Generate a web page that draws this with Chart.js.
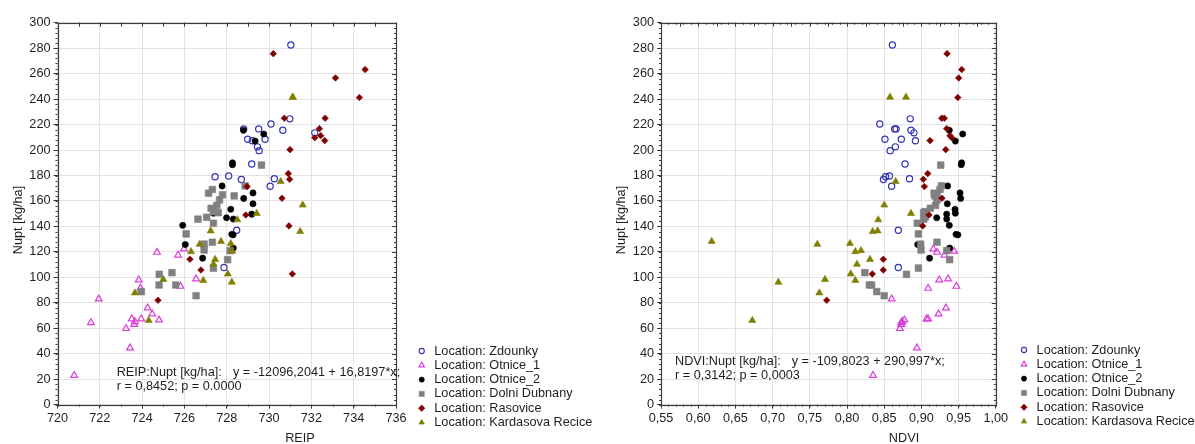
<!DOCTYPE html>
<html>
<head>
<meta charset="utf-8">
<title>Nupt vs REIP / NDVI</title>
<script src="https://cdn.jsdelivr.net/npm/chart.js@4.4.1/dist/chart.umd.min.js"></script>
<style>
  html, body { margin: 0; padding: 0; background: #fff; }
  #wrap { position: relative; width: 1195px; height: 444px; overflow: hidden; }
  #c1 { position: absolute; left: 0; top: 0; }
  #c2 { position: absolute; left: 598px; top: 0; }
</style>
</head>
<body>
<div id="wrap">
  <canvas id="c1" width="598" height="444"></canvas>
  <canvas id="c2" width="597" height="444"></canvas>
</div>
<script>
// ---- measured samples per location: N uptake, REIP and NDVI ----
const zdounkyNupt = [282.5, 224.5, 220.5, 216.6, 216.6, 215.5, 213.5, 208.5, 208.5, 207.3, 202.5, 199.5, 189, 179.6, 179, 177.5, 176.8, 171.5, 137, 107.8];
const zdounkyReip = [731.03, 730.98, 730.09, 729.51, 728.80, 730.65, 732.16, 728.99, 729.81, 729.21, 729.45, 729.53, 729.18, 728.09, 727.45, 730.25, 728.69, 730.05, 728.47, 727.87];
const zdounkyNdvi = [0.861, 0.885, 0.844, 0.864, 0.866, 0.886, 0.890, 0.851, 0.873, 0.892, 0.865, 0.858, 0.878, 0.857, 0.852, 0.884, 0.849, 0.860, 0.869, 0.869];

const otnice1Nupt = [23, 44.6, 59.8, 63, 64.4, 65.2, 66.5, 67.4, 67.4, 71.3, 76, 83, 91.4, 93, 98, 98.8, 117.5, 119.7, 120.5, 122.3];
const otnice1Reip = [720.79, 723.43, 723.24, 723.62, 721.58, 723.66, 724.80, 723.51, 723.96, 724.48, 724.26, 721.95, 723.92, 725.81, 723.84, 726.55, 725.70, 724.70, 728.24, 725.98];
const otnice1Ndvi = [0.835, 0.894, 0.871, 0.873, 0.873, 0.874, 0.877, 0.907, 0.909, 0.923, 0.933, 0.860, 0.909, 0.947, 0.924, 0.936, 0.931, 0.921, 0.944, 0.916];

const otnice2Nupt = [215.5, 212.6, 207, 190, 188.5, 171.8, 166.3, 162, 157.8, 153.5, 150.4, 149.6, 146.8, 145.8, 140.9, 133.8, 133.4, 125.8, 123, 115.1];
const otnice2Reip = [728.79, 729.75, 729.34, 728.27, 728.27, 727.78, 729.24, 728.80, 729.24, 728.19, 727.37, 729.18, 727.99, 728.31, 725.92, 728.24, 728.30, 726.04, 728.31, 726.86];
const otnice2Ndvi = [0.9375, 0.9555, 0.9456, 0.9541, 0.9535, 0.9353, 0.9519, 0.9528, 0.9348, 0.9452, 0.9456, 0.934, 0.9206, 0.934, 0.9375, 0.9466, 0.949, 0.895, 0.938, 0.911];

const dubnanyNupt = [188.2, 171.9, 169, 166.1, 164.9, 164, 160.8, 156.5, 154.3, 151.6, 150.8, 147.2, 145.7, 142.5, 134.1, 127.6, 126.1, 121.5, 121, 113.9, 107.3, 103.7, 102.4, 94, 94, 88.8, 85.6];
const dubnanyReip = [729.64, 728.87, 727.32, 727.14, 727.80, 728.35, 727.66, 727.53, 727.26, 727.37, 727.60, 727.05, 726.64, 727.37, 726.08, 727.32, 726.93, 726.93, 728.16, 728.04, 727.37, 725.41, 724.81, 724.80, 725.59, 723.96, 726.55];
const dubnanyNdvi = [0.926, 0.927, 0.925, 0.917, 0.921, 0.918, 0.921, 0.919, 0.912, 0.905, 0.903, 0.905, 0.903, 0.8945, 0.896, 0.921, 0.899, 0.8995, 0.934, 0.938, 0.896, 0.824, 0.880, 0.830, 0.833, 0.840, 0.850];

const rasoviceNupt = [275.7, 263.2, 256.6, 241.2, 225, 225, 216.8, 211.3, 209.7, 207.4, 200.3, 181.5, 177, 171.3, 162.1, 149, 140.4, 114.2, 105.8, 102.7, 82];
const rasoviceReip = [730.2, 734.54, 733.14, 734.27, 730.72, 732.65, 732.38, 732.44, 732.16, 732.63, 730.99, 730.91, 730.97, 728.96, 730.61, 728.9, 730.94, 726.26, 726.78, 731.1, 724.75];
const rasoviceNdvi = [0.9345, 0.9542, 0.9502, 0.9489, 0.9273, 0.9308, 0.934, 0.9384, 0.9407, 0.9116, 0.9327, 0.9085, 0.9026, 0.904, 0.9277, 0.9103, 0.9017, 0.8488, 0.8488, 0.834, 0.7727];

const kardasovaNupt = [241.5, 241.5, 175.3, 156.8, 150.2, 145.2, 136.5, 136, 128.2, 126.6, 126, 121, 120.2, 114.1, 110.3, 102.7, 98.4, 97.6, 96.2, 87.8, 66.2];
const kardasovaReip = [731.12, 731.12, 730.55, 731.59, 729.42, 728.5, 727.24, 731.47, 727.73, 728.19, 726.72, 728.24, 726.31, 727.45, 727.37, 728.05, 725.0, 726.89, 728.24, 723.66, 724.31];
const kardasovaNdvi = [0.8578, 0.8793, 0.8654, 0.8501, 0.886, 0.842, 0.8412, 0.8345, 0.6181, 0.804, 0.7601, 0.8188, 0.8112, 0.8309, 0.8134, 0.805, 0.7704, 0.8112, 0.7077, 0.7628, 0.6727];

// ---- axis ranges and tick steps ----
const nuptAxis = { min: 0, max: 300, step: 20 };
const reipAxis = { min: 720, max: 736, step: 2 };
const ndviAxis = { min: 0.55, max: 1.0, step: 0.05 };

// ---- regression summaries ----
const reipFitLabel = 'REIP:Nupt [kg/ha]:';
const reipFitEq = 'y = -12096,2041 + 16,8197*x;';
const reipFitStats = 'r = 0,8452; p = 0.0000';
const ndviFitLabel = 'NDVI:Nupt [kg/ha]:';
const ndviFitEq = 'y = -109,8023 + 290,997*x;';
const ndviFitStats = 'r = 0,3142; p = 0,0003';

const FONT = "'Liberation Sans', Arial, Helvetica, sans-serif";
const FONT_SIZE = 12.7;
const TEXT = '#1e1e1e';

// series appearance: [name, nupt, reip, ndvi, colour, pointStyle, radius, filled]
const series = [
  ['Location: Zdounky', zdounkyNupt, zdounkyReip, zdounkyNdvi, '#3434b4', 'circle', 3.1, false],
  ['Location: Otnice_1', otnice1Nupt, otnice1Reip, otnice1Ndvi, '#dc3cdc', 'triangle', 3.9, false],
  ['Location: Otnice_2', otnice2Nupt, otnice2Reip, otnice2Ndvi, '#000000', 'circle', 3.1, true],
  ['Location: Dolni Dubnany', dubnanyNupt, dubnanyReip, dubnanyNdvi, '#808080', 'rect', 4.7, true],
  ['Location: Rasovice', rasoviceNupt, rasoviceReip, rasoviceNdvi, '#800000', 'rectRot', 3.3, true],
  ['Location: Kardasova Recice', kardasovaNupt, kardasovaReip, kardasovaNdvi, '#7f7f00', 'triangle', 4.1, true]
];

function buildDatasets(xIndex) {
  return series.map((s, i) => ({
    label: s[0],
    data: s[1].map((v, k) => ({ x: s[xIndex][k], y: v })),
    pointStyle: s[5],
    pointRadius: s[6],
    pointHoverRadius: s[6],
    pointBorderWidth: s[7] ? 0.6 : 1.2,
    pointBorderColor: s[4],
    pointBackgroundColor: s[7] ? s[4] : 'rgba(0,0,0,0)',
    showLine: false,
    order: series.length - i
  }));
}

// frame, minor ticks, titles, fit text and legend
const decorations = {
  id: 'decorations',
  afterDraw(chart, args, o) {
    const { ctx, chartArea: a, scales } = chart;
    const xs = scales.x, ys = scales.y;
    ctx.save();
    ctx.strokeStyle = '#3c3c3c';
    ctx.lineWidth = 1;

    // minor ticks on all four sides
    ctx.beginPath();
    const xMinor = o.xMinor;
    for (let v = xs.min; v <= xs.max + 1e-9; v += xMinor) {
      const px = Math.round(xs.getPixelForValue(v)) + 0.5;
      ctx.moveTo(px, a.bottom); ctx.lineTo(px, a.bottom + 2);
      ctx.moveTo(px, a.top); ctx.lineTo(px, a.top + 2);
    }
    for (let v = ys.min; v <= ys.max + 1e-9; v += 4) {
      const py = Math.round(ys.getPixelForValue(v)) + 0.5;
      ctx.moveTo(a.left - 2, py); ctx.lineTo(a.left, py);
      ctx.moveTo(a.right, py); ctx.lineTo(a.right - 2, py);
    }
    // major ticks pointing inward on top and right
    for (let v = xs.min; v <= xs.max + 1e-9; v += o.xMajor / 2) {
      const px = Math.round(xs.getPixelForValue(v)) + 0.5;
      ctx.moveTo(px, a.top); ctx.lineTo(px, a.top + 4);
    }
    for (let v = ys.min; v <= ys.max + 1e-9; v += 20) {
      const py = Math.round(ys.getPixelForValue(v)) + 0.5;
      ctx.moveTo(a.right, py); ctx.lineTo(a.right - 4, py);
    }
    ctx.stroke();

    // plot frame
    ctx.lineWidth = 1.2;
    ctx.strokeRect(Math.round(a.left) + 0.5, Math.round(a.top) + 0.5,
                   Math.round(a.right) - Math.round(a.left), Math.round(a.bottom) - Math.round(a.top));

    ctx.fillStyle = TEXT;
    ctx.font = FONT_SIZE + 'px ' + FONT;
    ctx.textBaseline = 'middle';

    // axis titles
    ctx.textAlign = 'center';
    ctx.fillText(o.xTitle, o.xTitlePos[0], o.xTitlePos[1]);
    ctx.save();
    ctx.translate(o.yTitlePos[0], o.yTitlePos[1]);
    ctx.rotate(-Math.PI / 2);
    ctx.fillText('Nupt [kg/ha]', 0, 0);
    ctx.restore();

    // regression summary
    ctx.textAlign = 'left';
    ctx.fillText(o.fit[0], o.fitPos[0], o.fitPos[1]);
    ctx.fillText(o.fit[1], o.fitEqX, o.fitPos[1]);
    ctx.fillText(o.fit[2], o.fitPos[0], o.fitPos[1] + 14);

    // legend
    series.forEach((s, i) => {
      const y = o.legendPos[1] + i * 14.3;
      ctx.save();
      ctx.strokeStyle = s[4];
      ctx.fillStyle = s[7] ? s[4] : 'rgba(0,0,0,0)';
      ctx.lineWidth = s[7] ? 0.6 : 1.1;
      const r = s[5] === 'rect' ? 3.6 : (s[5] === 'circle' ? 2.6 : 3.2);
      Chart.helpers.drawPoint(ctx, { pointStyle: s[5], radius: r, rotation: 0, borderWidth: ctx.lineWidth },
                              o.legendPos[0], y);
      ctx.restore();
      ctx.fillStyle = TEXT;
      ctx.fillText(s[0], o.legendPos[0] + 12.6, y);
    });
    ctx.restore();
  }
};

function makeChart(id, xIndex, xAxis, cfg) {
  const fmt = cfg.fmt;
  return new Chart(document.getElementById(id), {
    type: 'scatter',
    data: { datasets: buildDatasets(xIndex) },
    plugins: [decorations],
    options: {
      responsive: false,
      animation: false,
      events: [],
      layout: { padding: { top: 22.7, right: cfg.padRight, bottom: 0, left: 0 } },
      plugins: {
        legend: { display: false },
        tooltip: { enabled: false },
        decorations: cfg.deco
      },
      scales: {
        x: {
          type: 'linear',
          min: xAxis.min, max: xAxis.max,
          afterFit: s => { s.height = 39.3; },
          afterBuildTicks: s => {
            const t = [];
            const n = Math.round((xAxis.max - xAxis.min) / xAxis.step);
            for (let i = 0; i <= n; i++) t.push({ value: +(xAxis.min + i * xAxis.step).toFixed(4) });
            s.ticks = t;
          },
          ticks: {
            callback: v => fmt(v),
            color: TEXT, font: { family: FONT, size: FONT_SIZE }, padding: 2,
            maxRotation: 0, autoSkip: false
          },
          grid: { color: '#e3e3e3', lineWidth: 1, tickLength: 4, tickColor: '#3c3c3c', drawTicks: true },
          border: { display: false }
        },
        y: {
          type: 'linear',
          min: nuptAxis.min, max: nuptAxis.max,
          afterFit: s => { s.width = cfg.yWidth; },
          ticks: {
            stepSize: nuptAxis.step,
            color: TEXT, font: { family: FONT, size: FONT_SIZE }, padding: 3
          },
          grid: { color: '#e3e3e3', lineWidth: 1, tickLength: 4, tickColor: '#3c3c3c', drawTicks: true },
          border: { display: false }
        }
      }
    }
  });
}

makeChart('c1', 2, reipAxis, {
  fmt: v => String(Math.round(v)),
  padRight: 598 - 396,
  yWidth: 57.5,
  deco: {
    xMinor: 1, xMajor: 2,
    xTitle: 'REIP', xTitlePos: [300, 438],
    yTitlePos: [18, 220],
    fit: [reipFitLabel, reipFitEq, reipFitStats], fitPos: [116.7, 372.3], fitEqX: 233,
    legendPos: [421.7, 351]
  }
});

makeChart('c2', 3, ndviAxis, {
  fmt: v => v.toFixed(2).replace('.', ','),
  padRight: 597 - 397.8,
  yWidth: 63,
  deco: {
    xMinor: 0.01, xMajor: 0.05,
    xTitle: 'NDVI', xTitlePos: [306, 438],
    yTitlePos: [23, 220],
    fit: [ndviFitLabel, ndviFitEq, ndviFitStats], fitPos: [77, 361], fitEqX: 193.7,
    legendPos: [426, 350]
  }
});
</script>
</body>
</html>
